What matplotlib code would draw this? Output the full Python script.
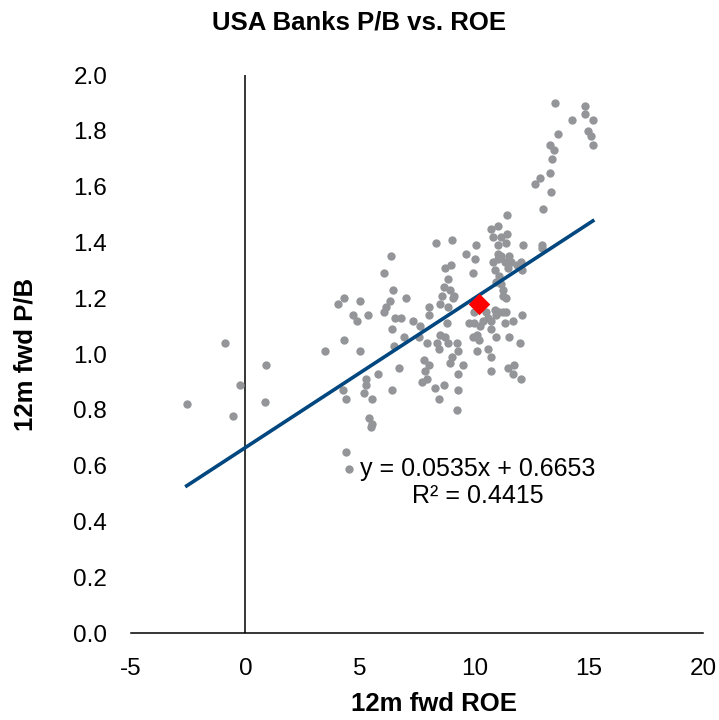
import numpy as np
import matplotlib.pyplot as plt

plt.rcParams['font.family'] = ['Liberation Sans', 'DejaVu Sans']
plt.rcParams['axes.unicode_minus'] = False

# 12m fwd ROE / 12m fwd P/B per bank
roe = [
    -2.56, -0.90, -0.56, -0.22, 0.90, 0.87,
    3.49, 4.33, 4.07, 5.02, 4.69, 4.86, 5.38, 4.29, 5.02,
    4.26, 4.40, 4.40, 4.52,
    5.27, 5.27, 5.19, 5.55, 5.41, 5.55, 5.48,
    5.81, 6.42, 6.71,
    6.35, 6.06, 6.46, 6.32, 7.00, 6.13, 6.06, 6.54, 6.78, 7.33,
    8.04, 8.04, 7.65, 6.42, 6.93, 6.49,
    7.94, 7.58, 8.37, 8.44, 8.52,
    7.79, 8.01, 7.87, 7.94, 7.72,
    8.27, 8.66, 8.48, 8.34,
    9.02, 10.06, 9.62, 10.03, 8.99, 8.73, 9.94, 8.87,
    8.70, 8.96, 9.13, 9.08, 8.87, 8.61, 8.52, 10.00,
    8.80, 9.77, 10.00, 10.25, 10.39, 10.75, 10.97, 11.26, 11.33, 11.69, 12.09,
    10.90, 11.08, 10.53, 10.61, 11.40,
    10.72, 10.97, 9.93, 10.14, 10.20, 11.52, 12.02,
    8.73, 8.87, 9.23, 9.28,
    9.02, 8.95, 9.52, 9.31, 10.10, 10.61, 10.71, 10.75, 11.47, 11.73, 11.69, 12.05,
    9.28, 9.23,
    11.41, 10.72, 11.05, 10.82, 11.18, 11.41, 11.04, 11.40, 12.11, 11.04, 11.18,
    11.52, 11.04, 11.33, 11.61, 11.85, 12.08, 10.92, 11.10, 11.16, 11.26, 11.40,
    10.82, 11.47, 12.05, 10.97, 11.26, 12.97, 12.94,
    13.54, 14.82, 14.83, 15.18, 14.26, 13.68, 14.99, 15.12, 15.17, 13.32,
    13.48, 13.38, 13.33, 12.89, 12.67, 13.35, 13.02,
]
pb = [
    0.82, 1.04, 0.78, 0.89, 0.96, 0.83,
    1.01, 1.20, 1.18, 1.19, 1.14, 1.12, 1.14, 1.05, 1.01,
    0.87, 0.84, 0.65, 0.59,
    0.91, 0.89, 0.86, 0.84, 0.77, 0.75, 0.74,
    0.93, 0.87, 0.95,
    1.35, 1.29, 1.23, 1.19, 1.20, 1.17, 1.15, 1.13, 1.13, 1.12,
    1.17, 1.14, 1.10, 1.09, 1.06, 1.03,
    1.04, 1.06, 1.04, 1.02, 1.07,
    0.98, 0.96, 0.94, 0.91, 0.90,
    0.88, 0.89, 0.84, 1.40,
    1.41, 1.39, 1.36, 1.34, 1.32, 1.31, 1.29, 1.27,
    1.24, 1.23, 1.21, 1.20, 1.17, 1.21, 1.18, 1.15,
    1.11, 1.11, 1.11, 1.10, 1.12, 1.12, 1.14, 1.15, 1.11, 1.12, 1.14,
    1.16, 1.15, 1.15, 1.13, 1.15,
    1.09, 1.06, 1.06, 1.07, 1.05, 1.06, 1.04,
    1.06, 1.04, 1.04, 1.01,
    0.99, 0.97, 0.96, 0.93, 1.01, 1.02, 0.99, 0.94, 0.95, 0.96, 0.93, 0.91,
    0.87, 0.80,
    1.50, 1.45, 1.46, 1.42, 1.42, 1.43, 1.39, 1.40, 1.39, 1.36, 1.35,
    1.35, 1.34, 1.33, 1.33, 1.32, 1.30, 1.30, 1.28, 1.25, 1.23, 1.20,
    1.33, 1.31, 1.33, 1.26, 1.21, 1.39, 1.38,
    1.90, 1.89, 1.86, 1.84, 1.84, 1.79, 1.80, 1.78, 1.75, 1.75,
    1.73, 1.70, 1.65, 1.63, 1.61, 1.58, 1.52,
]

# highlighted bank
hl_roe = [10.22]
hl_pb = [1.18]

# linear trend (as printed on the chart)
slope = 0.0535
intercept = 0.6653
r2 = 0.4415

fig = plt.figure(figsize=(7.19, 7.20), dpi=100)
ax = fig.add_axes([0.182, 0.1204, 0.796, 0.7754])

ax.scatter(roe, pb, s=36, color='#939598', zorder=2, linewidths=0)
xs = np.array([min(roe), max(roe)])
ax.plot(xs, slope * xs + intercept, color='#00467f', lw=2.6, zorder=3)
ax.scatter(hl_roe, hl_pb, marker='D', s=120, color='#ff0000', zorder=4, linewidths=0)

ax.axvline(0, ymin=0, ymax=1, color='black', lw=1.1, zorder=1)

ax.set_xlim(-5, 20)
ax.set_ylim(0, 2.0)
ax.set_xticks([-5, 0, 5, 10, 15, 20])
ax.set_yticks(np.arange(0, 2.01, 0.2))
ax.set_yticklabels([f'{v:.1f}' for v in np.arange(0, 2.01, 0.2)])
ax.tick_params(length=0, labelsize=17.5)
ax.tick_params(axis='x', pad=18)
ax.tick_params(axis='y', pad=17)

for side in ['top', 'right', 'left']:
    ax.spines[side].set_visible(False)
ax.spines['bottom'].set_linewidth(1.1)

ax.text(10.15, 0.54, f'y = {slope}x + {intercept}\nR² = {r2}', ha='center', va='center',
        fontsize=18, linespacing=1.2)

fig.text(0.5, 0.969, 'USA Banks P/B vs. ROE', ha='center', va='center',
         fontsize=18.5, fontweight='bold')
ax.set_xlabel('12m fwd ROE', fontsize=18.5, fontweight='bold')
ax.set_ylabel('12m fwd P/B', fontsize=18.5, fontweight='bold')
ax.xaxis.set_label_coords(0.53, -0.105)
ax.yaxis.set_label_coords(-0.163, 0.5)

plt.savefig('out.png', dpi=100)
